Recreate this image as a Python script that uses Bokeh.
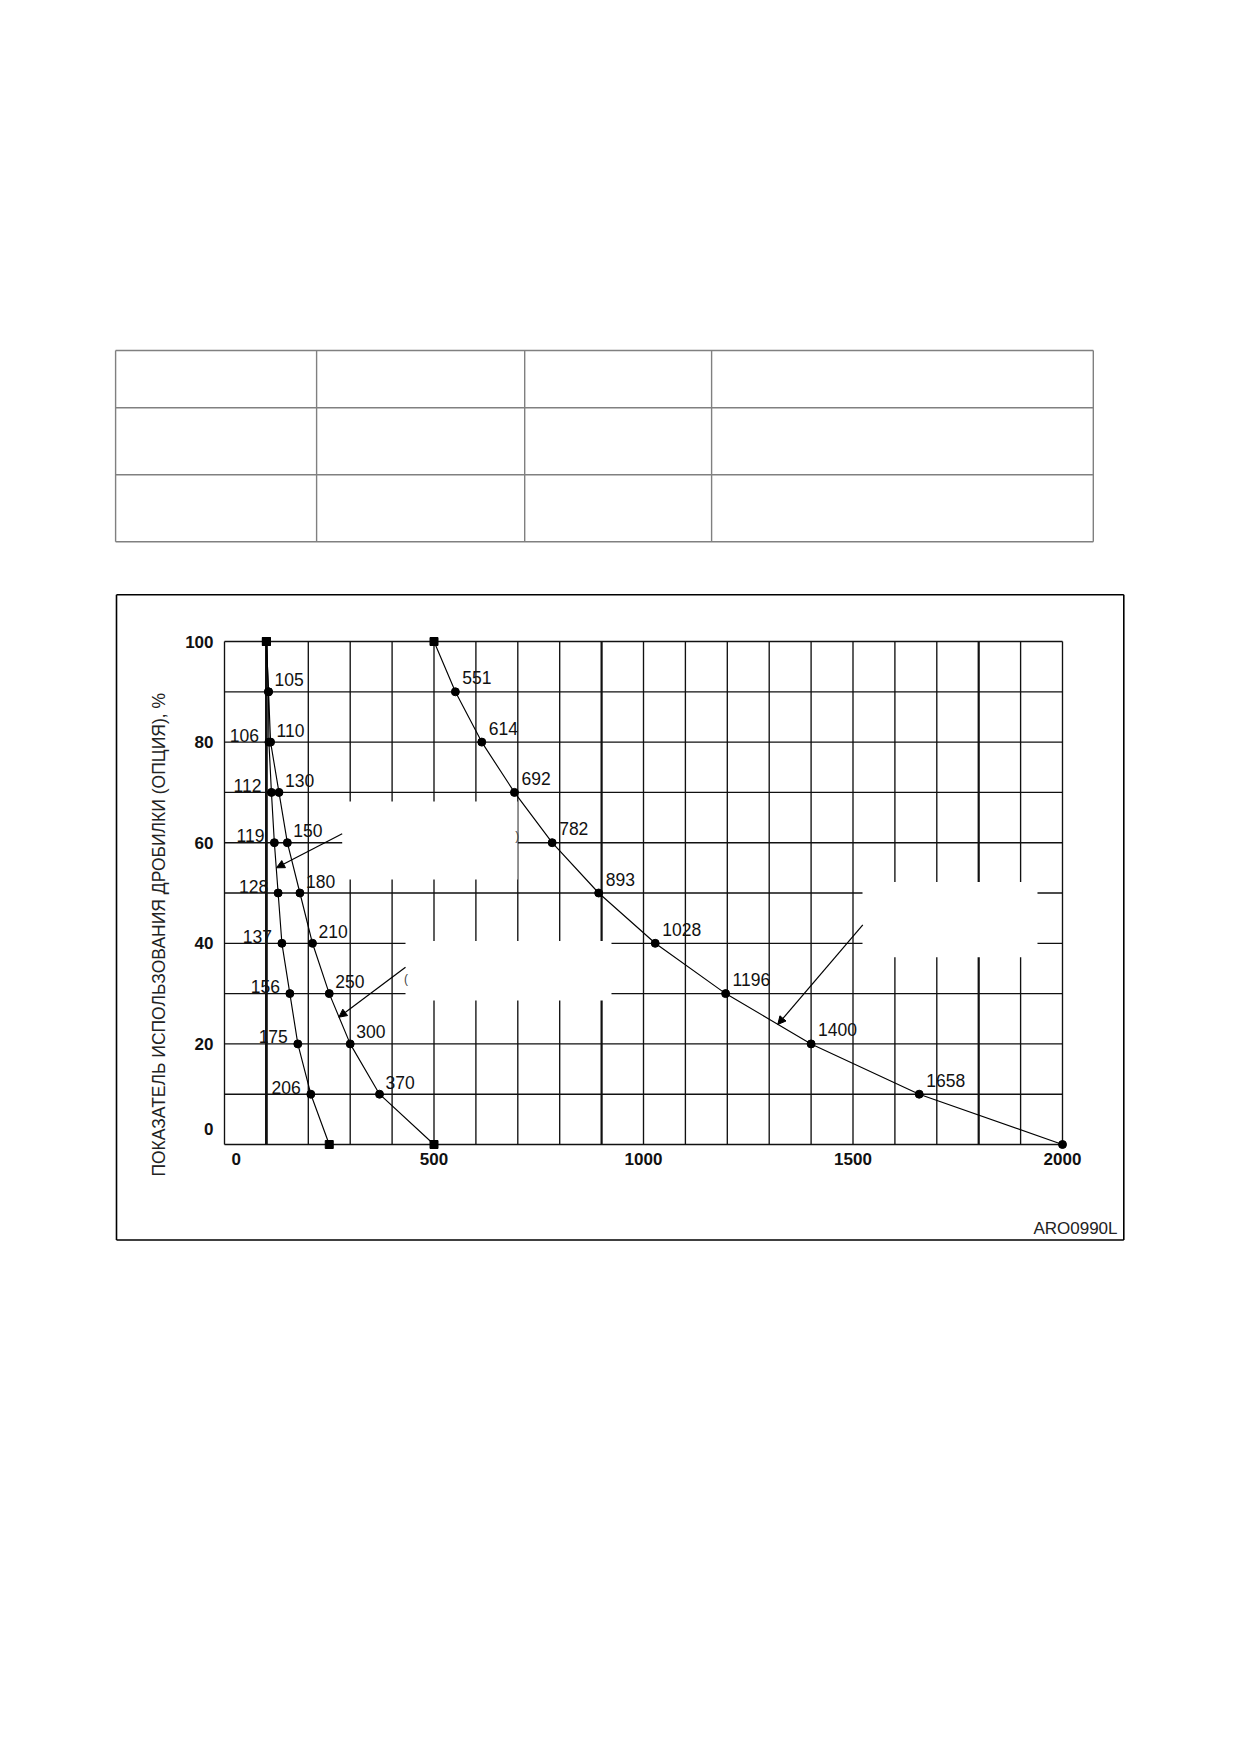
import numpy as np
from bokeh.plotting import figure
from bokeh.models import Range1d, FixedTicker, Arrow, NormalHead, ColumnDataSource
from bokeh.embed import file_html
from bokeh.resources import INLINE
from bokeh.core.properties import value

# ---------------- data ----------------
levels = [100, 90, 80, 70, 60, 50, 40, 30, 20, 10, 0]
curve_b = [100, 105, 106, 112, 119, 128, 137, 156, 175, 206, 250]
curve_c = [100, 105, 110, 130, 150, 180, 210, 250, 300, 370, 500]
curve_d = [500, 551, 614, 692, 782, 893, 1028, 1196, 1400, 1658, 2000]
x_ticks = [0, 500, 1000, 1500, 2000]
y_ticks = [0, 20, 40, 60, 80, 100]
y_title = "ПОКАЗАТЕЛЬ ИСПОЛЬЗОВАНИЯ ДРОБИЛКИ (ОПЦИЯ), %"
code_label = "ARO0990L"

# ---------------- styles / layout constants ----------------
FONT = value("Liberation Sans")
INK = "#111111"
X_ZERO_SHIFT = 28      # "0" tick label drawn a little right of x=0
Y_ZERO_SHIFT = 3       # "0" tick label drawn a little above y=0
THICK_X = {100: 2.8, 900: 2.2, 1800: 2.2}

W, H = 1135, 1250           # canvas size (page pixels)
X0, Y0 = 224, 1144          # page pixel of data origin
SX, SY = 838 / 2000, 503 / 100   # pixels per data unit


def px(X):
    return (X - X0) / SX


def py(Y):
    return (Y0 - Y) / SY


p = figure(width=W, height=H, title=None,
           x_range=Range1d(px(0), px(W)), y_range=Range1d(py(H), py(0)),
           toolbar_location=None, output_backend="svg", min_border=0,
           outline_line_color=None)
p.xgrid.visible = False
p.ygrid.visible = False

# ---------------- empty table above the chart ----------------
tcols = [115.1, 316.1, 524.2, 711.1, 1092.8]
trows = [350, 407.3, 474.3, 541.3]
p.segment(x0=[px(c) for c in tcols], x1=[px(c) for c in tcols],
          y0=[py(trows[0])] * len(tcols), y1=[py(trows[-1])] * len(tcols),
          line_color="#808080", line_width=1.4)
p.segment(x0=[px(tcols[0])] * len(trows), x1=[px(tcols[-1])] * len(trows),
          y0=[py(r) for r in trows], y1=[py(r) for r in trows],
          line_color="#808080", line_width=1.4)

# ---------------- outer frame of the figure ----------------
BL, BR, BT, BB = 116, 1123.3, 594.3, 1239.5
p.segment(x0=[px(BL), px(BL), px(BR), px(BL)], x1=[px(BR), px(BR), px(BR), px(BL)],
          y0=[py(BT), py(BB), py(BT), py(BT)], y1=[py(BT), py(BB), py(BB), py(BB)],
          line_color="black", line_width=1.6)

# ---------------- grid ----------------
xmin, xmax = x_ticks[0], x_ticks[-1]
ymin, ymax = y_ticks[0], y_ticks[-1]
vx = list(range(xmin, xmax + 1, 100))
hy = list(range(ymin, ymax + 1, 10))
p.segment(x0=vx, x1=vx, y0=[ymin] * len(vx), y1=[ymax] * len(vx),
          line_color="#111111", line_width=[THICK_X.get(v, 1.35) for v in vx])
p.segment(x0=[xmin] * len(hy), x1=[xmax] * len(hy), y0=hy, y1=hy,
          line_color="#111111", line_width=1.35)

# erased label areas (white patches over the grid)
p.quad(left=[280.9, 432.0, 1522.7], right=[699.3, 923.6, 1940.3],
       bottom=[52.68, 28.63, 37.24], top=[68.19, 40.46, 52.19],
       fill_color="white", line_color=None)
p.text(x=[698.6, 433.2], y=[61.4, 33.0], text=[")", "("], text_align="center",
       text_baseline="middle", text_font=FONT, text_font_size="12px", text_color="#444444")

# ---------------- curves ----------------
for xs in (curve_b, curve_c, curve_d):
    p.line(x=xs, y=levels, line_color="black", line_width=1.15)


def split_markers(xs, round_last=False):
    sq_x, sq_y, c_x, c_y = [], [], [], []
    n = len(xs)
    for i, (xv, yv) in enumerate(zip(xs, levels)):
        end = i == 0 or (i == n - 1 and not round_last)
        (sq_x if end else c_x).append(xv)
        (sq_y if end else c_y).append(yv)
    return sq_x, sq_y, c_x, c_y


for xs, rl in ((curve_b, False), (curve_c, False), (curve_d, True)):
    sx_, sy_, cx_, cy_ = split_markers(xs, rl)
    p.scatter(x=sx_, y=sy_, marker="square", size=8, fill_color="black", line_color="black")
    p.scatter(x=cx_, y=cy_, marker="circle", size=8, fill_color="black", line_color="black")

# point labels
lab_b = slice(2, 10)
lab_cd = slice(1, 10)
LBL_SIZE = "17.5px"
p.text(x=curve_b[lab_b], y=levels[lab_b], text=[str(v) for v in curve_b[lab_b]],
       text_align="right", text_baseline="middle", x_offset=-10, y_offset=-7,
       text_font=FONT, text_font_size=LBL_SIZE, text_color=INK)
p.text(x=curve_c[lab_cd], y=levels[lab_cd], text=[str(v) for v in curve_c[lab_cd]],
       text_align="left", text_baseline="middle", x_offset=6, y_offset=-12,
       text_font=FONT, text_font_size=LBL_SIZE, text_color=INK)
p.text(x=curve_d[lab_cd], y=levels[lab_cd], text=[str(v) for v in curve_d[lab_cd]],
       text_align="left", text_baseline="middle", x_offset=7, y_offset=-14,
       text_font=FONT, text_font_size=LBL_SIZE, text_color=INK)

# leader arrows
arr = ColumnDataSource(dict(x0=[280.9, 432.0, 1523.4], y0=[61.77, 35.25, 43.68],
                            x1=[124.1, 272.8, 1320.5], y1=[55.01, 25.31, 23.86]))
p.add_layout(Arrow(end=NormalHead(size=8, fill_color="black", line_color="black", line_width=1),
                   x_start="x0", y_start="y0", x_end="x1", y_end="y1", source=arr,
                   line_color="black", line_width=1.2))

# y title and drawing code
p.text(x=[px(158.3)], y=[py(934.3)], text=[y_title], angle=np.pi / 2,
       text_align="center", text_baseline="middle", text_font=FONT,
       text_font_size="17.5px", text_color="#222222")
p.text(x=[px(1117)], y=[py(1227.5)], text=[code_label], text_align="right",
       text_baseline="middle", text_font=FONT, text_font_size="17px",
       text_color="#222222")

# ---------------- axes (labels only, pinned at the data origin) ----------------
xt = [X_ZERO_SHIFT if t == 0 else t for t in x_ticks]
yt = [Y_ZERO_SHIFT if t == 0 else t for t in y_ticks]
p.xaxis.ticker = FixedTicker(ticks=xt)
p.yaxis.ticker = FixedTicker(ticks=yt)
p.xaxis.major_label_overrides = {X_ZERO_SHIFT: "0"}
p.yaxis.major_label_overrides = {Y_ZERO_SHIFT: "0"}
p.xaxis.fixed_location = 0
p.yaxis.fixed_location = 0
for ax in (p.xaxis, p.yaxis):
    ax.axis_line_color = None
    ax.major_tick_line_color = None
    ax.minor_tick_line_color = None
    ax.major_tick_in = 0
    ax.major_tick_out = 0
    ax.minor_tick_in = 0
    ax.minor_tick_out = 0
    ax.major_label_text_font = "Liberation Sans"
    ax.major_label_text_font_style = "bold"
    ax.major_label_text_font_size = "17px"
    ax.major_label_text_color = INK
p.xaxis.major_label_standoff = 8
p.yaxis.major_label_standoff = 11

open("out.html", "w").write(file_html(p, INLINE))
